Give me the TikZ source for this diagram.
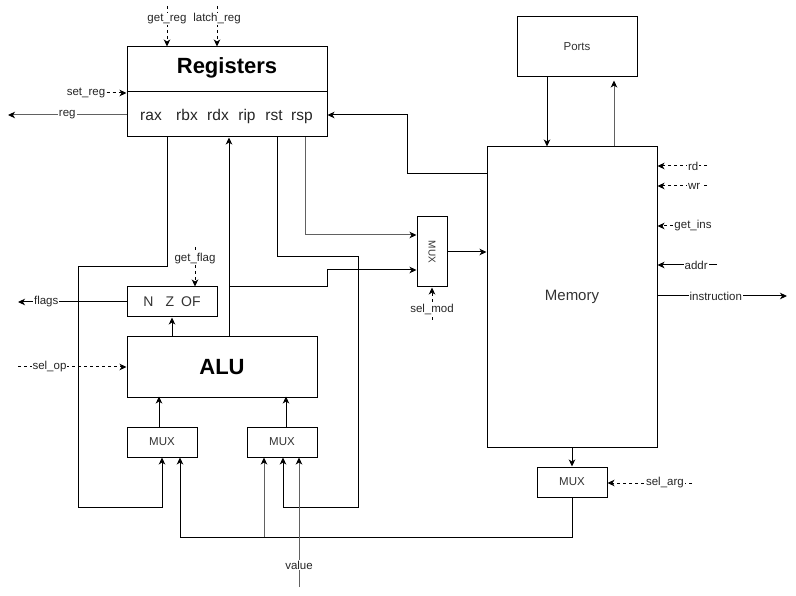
\documentclass[tikz,border=0pt]{standalone}
\usepackage{fontspec}
\setmainfont{Liberation Sans}
\usetikzlibrary{arrows.meta,positioning}

\begin{document}
\begin{tikzpicture}[x=1pt,y=-1pt,line width=1pt,
  >={Stealth[length=7pt,width=6.5pt,inset=2pt]},
  blk/.style={draw,rectangle,inner sep=0pt,text=black!80,font=\fontsize{11.5}{13}\selectfont},
  lbl/.style={fill=white,inner sep=1pt,text=black!85,font=\fontsize{11.5}{13}\selectfont},
  big/.style={font=\bfseries\fontsize{22}{25}\selectfont},
  reg/.style={anchor=base,font=\fontsize{15.5}{17}\selectfont,text=black!85},
  ctl/.style={->,dash pattern=on 3pt off 3pt},
  gline/.style={draw=black!62,-{Stealth[length=7pt,width=6.5pt,inset=2pt,black]}}]
\useasboundingbox[fill=white] (0,0) rectangle (796,596);
% ================= blocks =================
\node[blk,minimum width=200,minimum height=90] (regs) at (227,92) {};
\draw (regs.west) -- (regs.east);
\node[big] (regtitle) at (227,68) {Registers};
\node[reg] (rax) at (151,120.5) {rax};
\node[reg] (rbx) at (187,120.5) {rbx};
\node[reg] (rdx) at (218,120.5) {rdx};
\node[reg] (rip) at (247,120.5) {rip};
\node[reg] (rst) at (274,120.5) {rst};
\node[reg] (rsp) at (302,120.5) {rsp};
\coordinate (regrow) at (227,115);
\node[blk,minimum width=90,minimum height=30,font=\fontsize{14}{16}\selectfont] (flags) at (172,302) {N\hspace{12pt}Z\hspace{7pt}OF};
\node[blk,minimum width=190,minimum height=60,big,text=black] (alu) at (222,367) {ALU};
\node[blk,minimum width=70,minimum height=30] (mux1) at (162,442) {MUX};
\node[blk,minimum width=70,minimum height=30] (mux2) at (282,442) {MUX};
\node[blk,minimum width=30,minimum height=70] (muxm) at (432,252) {};
\node[rotate=-90,text=black!80,font=\fontsize{10}{12}\selectfont] at (muxm) {MUX};
\node[blk,minimum width=120,minimum height=60] (ports) at (577,47) {Ports};
\node[blk,minimum width=170,minimum height=300,font=\fontsize{15}{17}\selectfont] (mem) at (572,297) {Memory};
\node[blk,minimum width=70,minimum height=30] (muxa) at (572,482) {MUX};
% ================= registers =================
\coordinate (getreg) at (167,6);
\draw[ctl] (getreg) -- (getreg |- regs.north) node[lbl,pos=0.32] {get\_reg};
\coordinate (latchreg) at (217,6);
\draw[ctl] (latchreg) -- (latchreg |- regs.north) node[lbl,pos=0.32] {latch\_reg};
\node[lbl] (setreg) at (86,93) {set\_reg};
\draw[ctl] (setreg) -- (setreg -| regs.west);
\coordinate (regout) at (8,115);
\draw[gline] (regs.west |- regrow) -- (regout) node[lbl,pos=0.5] {reg};
% memory back into registers
\coordinate (memtap) at (407,174);
\draw[->] (memtap -| mem.west) -- (memtap) |- (regrow -| regs.east);
% rax round to the left mux
\draw[->] ([xshift=-60]regs.south) |- (78,267) |- (162,507) -- (mux1.south);
% rst round to the right mux
\draw[->] ([xshift=50]regs.south) |- (358,257) |- (283,507) -- ([xshift=1]mux2.south);
% rsp into the mode mux
\draw[gline] ([xshift=78]regs.south) |- ([yshift=17pt]muxm.west);
% alu result
\draw[->] ([xshift=7]alu.north) -- ([xshift=2]regs.south);
\coordinate (alutap) at (229,287);
\draw[->] (alutap) -- (327,287) |- ([yshift=-18pt]muxm.west);
\draw[->] (muxm.east) -- (muxm.east -| mem.west);
\coordinate (selmod) at (432,320);
\draw[ctl] (selmod) -- (muxm.south) node[lbl,pos=0.33] {sel\_mod};
% ================= alu side =================
\draw[->] ([xshift=-50]alu.north) -- (flags.south);
\coordinate (flagsout) at (18,302);
\draw[->] (flags.west) -- (flagsout) node[lbl,pos=0.74] {flags};
\coordinate (getflag) at (195,247);
\draw[ctl] (getflag) -- (getflag |- flags.north) node[lbl,pos=0.3] {get\_flag};
\coordinate (selop) at (18,367);
\draw[ctl] (selop) -- (selop -| alu.west) node[lbl,pos=0.29] {sel\_op};
\draw[->] ([xshift=-3]mux1.north) -- ++(0,-30);
\draw[->] ([xshift=4]mux2.north) -- ++(0,-30);
% ================= memory side =================
\draw[->] ([xshift=-30]ports.south) -- ([xshift=-25]mem.north);
\draw[gline] ([xshift=42]mem.north) -- ([xshift=37,yshift=-3pt]ports.south);
\coordinate (rd) at (707,166);
\draw[ctl] (rd) -- (rd -| mem.east) node[lbl,pos=0.28] {rd};
\coordinate (wr) at (707,186);
\draw[ctl] (wr) -- (wr -| mem.east) node[lbl,pos=0.26] {wr};
\node[lbl] (getins) at (693,226) {get\_ins};
\draw[ctl] (getins) -- (getins -| mem.east);
\coordinate (addr) at (717,265);
\draw[->] (addr) -- (addr -| mem.east) node[lbl,pos=0.35] {addr};
\coordinate (insout) at (787,296);
\draw[->] (mem.east |- insout) -- (insout) node[lbl,pos=0.45] {instruction};
\draw[->] (mem.south) -- (muxa.north);
\coordinate (selarg) at (692,483);
\draw[ctl] (selarg) -- (selarg -| muxa.east) node[lbl,pos=0.32] {sel\_arg};
% argument back to the alu muxes
\draw[->] (muxa.south) |- (180,537) -- ([xshift=18]mux1.south);
\coordinate (argtap) at (264,537);
\draw[gline] (argtap) -- ([xshift=-18]mux2.south);
\coordinate (value) at (299,587);
\draw[gline] (value) -- ([xshift=17]mux2.south) node[lbl,pos=0.17] {value};
\end{tikzpicture}
\end{document}
